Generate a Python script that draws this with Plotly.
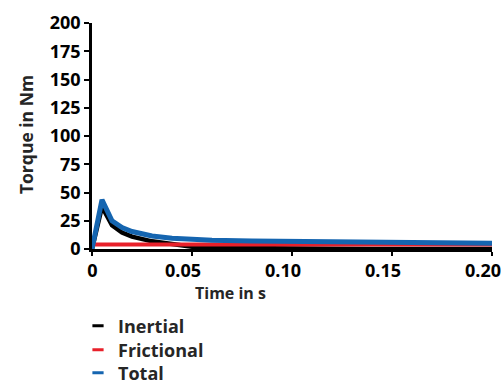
import plotly.graph_objects as go

time_s = [0, 0.005, 0.01, 0.015, 0.02, 0.025, 0.03, 0.04, 0.05, 0.06, 0.08, 0.10, 0.12, 0.14, 0.16, 0.18, 0.20]
inertial = [0, 37.5, 21, 14.5, 11, 8.5, 6.8, 4.5, 2, 1, 0.4, 0.2, 0.15, 0.1, 0.1, 0.1, 0.1]
frictional = [4, 4, 4, 4, 4, 4, 4, 4, 4, 4, 4, 4, 4, 4, 4, 4, 4]
total = [0, 43.5, 25, 19, 15.5, 13, 11.5, 9.5, 8.5, 7.8, 7, 6.5, 6, 5.7, 5.4, 5.2, 5]

series_names = ["Inertial", "Frictional", "Total"]
series_colors = ["#000000", "#e8202a", "#1565b0"]
series_widths = [4.5, 4, 5]

x_tickvals = [0, 0.05, 0.10, 0.15, 0.20]
x_ticktext = ["\u00a0\u00a0\u00a0\u00a00", "0.05", "0.10", "0.15", "0.20"]
y_tickvals = [0, 25, 50, 75, 100, 125, 150, 175, 200]

FONT = "Open Sans"
legend_ids = ["legend", "legend2", "legend3"]
legend_y = [0.1554, 0.0933, 0.0337]

fig = go.Figure()
for name, vals, col, w in zip(series_names, [inertial, frictional, total], series_colors, series_widths):
    fig.add_trace(go.Scatter(x=time_s, y=vals, mode="lines", name=name,
                             line=dict(color=col, width=w), legendgroup=name,
                             showlegend=False, cliponaxis=False))
# legend entries (short dash symbols)
for name, col, lid in zip(series_names, series_colors, legend_ids):
    fig.add_trace(go.Scatter(x=[None], y=[None], mode="markers", name=name, legendgroup=name,
                             marker=dict(symbol="line-ew", size=8, color=col,
                                         line=dict(color=col, width=3)),
                             showlegend=True, legend=lid))

tick_font = dict(family=FONT, size=18, color="#000000", weight="bold")
legend_font = dict(family=FONT, size=18, color="#262626", weight="bold")

legend_layout = {}
for lid, ly in zip(legend_ids, legend_y):
    legend_layout[lid] = dict(x=-0.035, xanchor="left", y=ly, yref="container", yanchor="middle",
                              font=legend_font, itemwidth=30, bgcolor="rgba(0,0,0,0)")

fig.update_layout(
    width=501, height=386,
    margin=dict(l=92, r=9, t=23, b=137, autoexpand=False),
    paper_bgcolor="white", plot_bgcolor="white",
    font=dict(family=FONT, size=18, color="#000000", weight="bold"),
    xaxis=dict(range=[0, 0.2], tickvals=x_tickvals, ticktext=x_ticktext, automargin=False,
               showgrid=False, zeroline=False, showline=True, linecolor="#000000", linewidth=2.5,
               ticks="outside", ticklen=4, tickwidth=2, tickcolor="#000000",
               ticklabelshift=-9, ticklabeloverflow="allow", tickfont=tick_font),
    yaxis=dict(range=[0, 200], tickvals=y_tickvals, automargin=False,
               showgrid=False, zeroline=False, showline=True, linecolor="#000000", linewidth=2.5,
               ticks="outside", ticklen=5, tickwidth=2, tickcolor="#000000",
               ticklabeloverflow="allow", tickfont=tick_font),
    showlegend=True,
    annotations=[
        dict(text="Time in s", x=0.345, y=-0.195, xref="paper", yref="paper",
             showarrow=False, xanchor="center", yanchor="middle",
             font=dict(family=FONT, size=16, color="#262626", weight="bold")),
        dict(text="Torque in Nm", x=-0.165, y=0.504, xref="paper", yref="paper",
             showarrow=False, xanchor="center", yanchor="middle", textangle=-90,
             font=dict(family=FONT, size=17.5, color="#262626", weight="bold")),
    ],
    **legend_layout,
)

fig.write_html("out.html", post_script="document.body.style.margin='0';",
               config={"displayModeBar": False})
